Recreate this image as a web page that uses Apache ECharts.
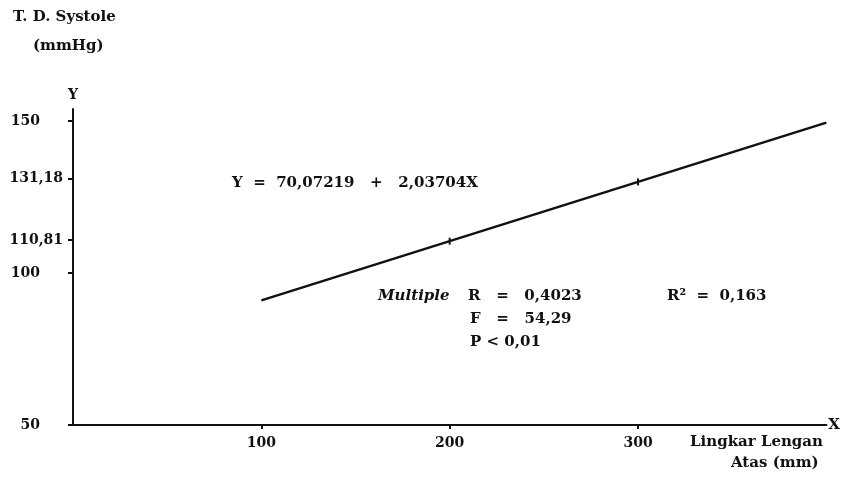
<!DOCTYPE html>
<html><head><meta charset="utf-8">
<script src="https://cdn.jsdelivr.net/npm/echarts@6/dist/echarts.min.js"></script>
<style>html,body{margin:0;padding:0;background:#fff}#c{width:843px;height:477px}</style>
</head><body><div id="c"></div>
<script>
// Data
const lineX = [100, 200, 300, 400];
const lineY = [91.0, 110.5, 130.0, 149.5];
const xTicks = [100, 200, 300];
const yMainTicks = [50, 100, 150];
const yFitTicks = [110.81, 131.18];
const markedX = [200, 300];

const FONT = 'DejaVu Serif';
const fmt = v => String(v).replace('.', ',');
const chart = echarts.init(document.getElementById('c'));
const txt = {fontFamily: FONT, fontSize: 14, fontWeight: 'bold', color: '#111'};
const f15 = `bold 15px "${FONT}"`;

chart.setOption({
  animation: false,
  grid: {left: 73, right: 14, top: 109, bottom: 52},
  xAxis: {
    type: 'value', min: 0, max: 400,
    splitLine: {show: false},
    axisLine: {lineStyle: {color: '#111', width: 2}},
    axisTick: {show: true, customValues: xTicks, length: 4, lineStyle: {color: '#111', width: 2}},
    axisLabel: {customValues: xTicks, margin: 11, ...txt},
    name: 'X', nameGap: 2, nameTextStyle: {...txt, fontSize: 15}
  },
  yAxis: [{
    type: 'value', min: 50, max: 154,
    splitLine: {show: false},
    axisLine: {onZero: false, lineStyle: {color: '#111', width: 2}},
    axisTick: {show: true, customValues: yMainTicks, length: 5, lineStyle: {color: '#111', width: 2}},
    axisLabel: {customValues: yMainTicks, margin: 33, ...txt},
    name: 'Y', nameGap: 7, nameTextStyle: {...txt, align: 'center'}
  }, {
    type: 'value', min: 50, max: 154, position: 'left',
    splitLine: {show: false},
    axisLine: {show: false},
    axisTick: {show: true, customValues: yFitTicks, length: 5, lineStyle: {color: '#111', width: 2}},
    axisLabel: {customValues: yFitTicks, margin: 10, formatter: v => fmt(v), ...txt}
  }],
  series: [{
    type: 'line',
    data: lineX.map((x, i) => [x, lineY[i]]),
    lineStyle: {color: '#111', width: 2.5},
    symbol: (v) => markedX.includes(v[0]) ? 'rect' : 'none',
    symbolSize: [2, 7],
    itemStyle: {color: '#111'},
    silent: true
  }],
  graphic: [
    {type: 'text', left: 13, top: 10, style: {text: 'T. D. Systole', fill: '#111', font: f15}},
    {type: 'text', left: 33, top: 39, style: {text: '(mmHg)', fill: '#111', font: f15}},
    {type: 'text', left: 232, top: 176, style: {text: 'Y  =  70,07219   +   2,03704X', fill: '#111', font: f15}},
    {type: 'text', left: 378, top: 289, style: {text: 'Multiple', fill: '#111', font: `italic bold 15px "${FONT}"`}},
    {type: 'text', left: 468, top: 289, style: {text: 'R   =   0,4023', fill: '#111', font: f15}},
    {type: 'text', left: 667, top: 289, style: {text: 'R²  =  0,163', fill: '#111', font: f15}},
    {type: 'text', left: 470, top: 312, style: {text: 'F   =   54,29', fill: '#111', font: f15}},
    {type: 'text', left: 470, top: 335, style: {text: 'P < 0,01', fill: '#111', font: f15}},
    {type: 'text', left: 690, top: 435, style: {text: 'Lingkar Lengan', fill: '#111', font: f15}},
    {type: 'text', left: 731, top: 456, style: {text: 'Atas (mm)', fill: '#111', font: f15}}
  ]
});
</script></body></html>
